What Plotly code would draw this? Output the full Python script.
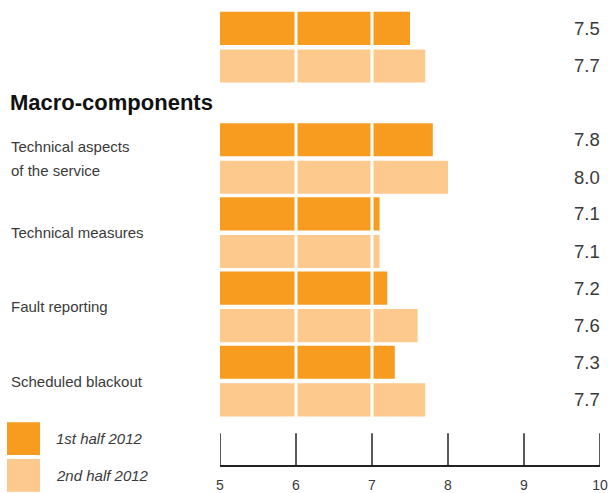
import plotly.graph_objects as go

# ---- data -------------------------------------------------------------
groups = ["", "Technical aspects<br>of the service", "Technical measures",
          "Fault reporting", "Scheduled blackout"]
first_half = [7.5, 7.8, 7.1, 7.2, 7.3]
second_half = [7.7, 8.0, 7.1, 7.6, 7.7]
series_names = ["1st half 2012", "2nd half 2012"]
section_title = "Macro-components"
x_ticks = [5, 6, 7, 8, 9, 10]

# ---- layout constants -------------------------------------------------
W, H = 608, 493
ML, MR, MT, MB = 220, 8, 0, 25
PW, PH = W - ML - MR, H - MT - MB
ROW = 74.67                     # pixels per group row
TOP = 47.5                      # pixel centre of the first group
BAR = 33.3 / ROW                # bar thickness in row units
GAP = 4.5 / ROW                 # gap between the two bars of a group
TICK_LEN = 32                   # upward tick length in pixels

# first group sits above the section heading, the rest follow it
group_pos = [0.0] + [1.5 + i for i in range(len(groups) - 1)]
heading_pos = 0.75

y_lo = -TOP / ROW
y_hi = (PH - TOP) / ROW

DARK = "#F89C1F"
LIGHT = "#FEC98C"
TEXT = "#3a3a3a"
AXIS = "#222222"
FONT = "Liberation Sans, Arial, sans-serif"


def px_x(p):
    return (p - ML) / PW


def px_y(p):
    return (MT + PH - p) / PH


fig = go.Figure()
fig.add_trace(go.Bar(
    y=group_pos, x=[v - 5 for v in first_half], base=5, orientation="h",
    name=series_names[0], marker=dict(color=DARK, line=dict(width=0)),
    width=BAR, offset=-(BAR + GAP / 2), showlegend=False, hoverinfo="skip",
))
fig.add_trace(go.Bar(
    y=group_pos, x=[v - 5 for v in second_half], base=5, orientation="h",
    name=series_names[1], marker=dict(color=LIGHT, line=dict(width=0)),
    width=BAR, offset=GAP / 2, showlegend=False, hoverinfo="skip",
))

annotations = []
shapes = []

# white separators across the bars at the interior grid values
for g in [6, 7]:
    shapes.append(dict(type="line", xref="x", yref="y", x0=g, x1=g,
                       y0=y_lo, y1=group_pos[-1] + BAR + GAP,
                       line=dict(color="white", width=3), layer="above"))

# upward tick marks standing on the bottom axis line
for t in x_ticks:
    shapes.append(dict(type="line", xref="x", yref="paper", x0=t, x1=t,
                       y0=0, y1=TICK_LEN / PH,
                       line=dict(color=AXIS, width=1.5), layer="above"))

# value labels at the right edge
for pos, a, b in zip(group_pos, first_half, second_half):
    for val, yc in ((a, pos - GAP / 2 - BAR / 2), (b, pos + GAP / 2 + BAR / 2)):
        annotations.append(dict(
            x=10, xref="x", y=yc, yref="y", text=f"{val:.1f}",
            xanchor="right", yanchor="middle", xshift=2, showarrow=False,
            font=dict(family=FONT, size=18.5, color=TEXT)))

# category labels on the left
for pos, label in zip(group_pos, groups):
    if not label:
        continue
    lines = label.split("<br>")
    n = len(lines)
    for i, line in enumerate(lines):
        annotations.append(dict(
            x=px_x(9), xref="paper", y=pos, yref="y", text=line,
            xanchor="left", yanchor="middle", showarrow=False,
            yshift=((n - 1) / 2 - i) * 24,
            font=dict(family=FONT, size=15, color=TEXT)))

# section heading
annotations.append(dict(
    x=px_x(8), xref="paper", y=heading_pos, yref="y",
    text=f"<b>{section_title}</b>", xanchor="left", yanchor="middle",
    showarrow=False, font=dict(family=FONT, size=22, color="#111111")))

# legend drawn as swatches with italic labels
for i, (name, col) in enumerate(zip(series_names, [DARK, LIGHT])):
    top = 425 + i * 37
    shapes.append(dict(type="rect", xref="paper", yref="paper",
                       x0=px_x(7), x1=px_x(40), y0=px_y(top + 33), y1=px_y(top),
                       fillcolor=col, line=dict(width=0)))
    annotations.append(dict(
        x=px_x(54), xref="paper", y=px_y(top + 16.5), yref="paper",
        text=f"<i>{name}</i>", xanchor="left", yanchor="middle",
        showarrow=False, font=dict(family=FONT, size=15, color=TEXT)))

fig.update_layout(
    width=W, height=H,
    margin=dict(l=ML, r=MR, t=MT, b=MB, pad=0),
    paper_bgcolor="white", plot_bgcolor="white",
    barmode="overlay",
    shapes=shapes, annotations=annotations,
    xaxis=dict(range=[5, 10], tickvals=x_ticks,
               ticktext=[str(t) for t in x_ticks],
               showgrid=False, zeroline=False, showline=True,
               linecolor=AXIS, linewidth=1.5, ticks="",
               tickfont=dict(family=FONT, size=14, color=TEXT),
               ticklabelstandoff=6, fixedrange=True),
    yaxis=dict(range=[y_hi, y_lo], visible=False, fixedrange=True),
)

fig.write_html("out.html")
